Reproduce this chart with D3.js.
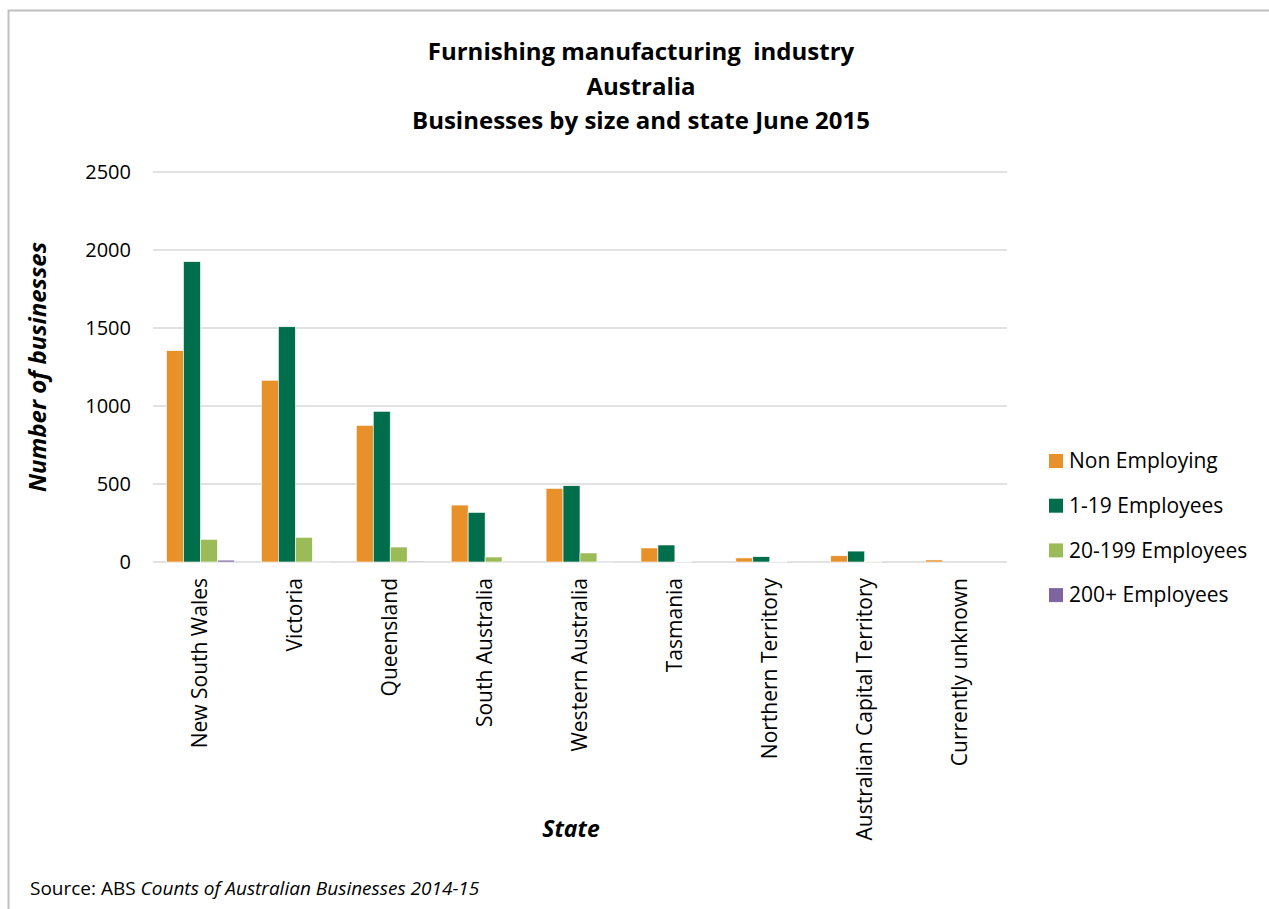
<!DOCTYPE html>
<html>
  <head>
    <meta charset="utf-8" />
    <script src="https://d3js.org/d3.v7.min.js"></script>
    <style>
      body {
        margin: 0;
        background: #fff;
      }
      svg text {
        font-family: "Open Sans", Lato, sans-serif;
        fill: #000;
      }
    </style>
  </head>
  <body>
    <svg id="chart" width="1269" height="909"></svg>
    <script>
      // Data
      const states = [
        "New South Wales",
        "Victoria",
        "Queensland",
        "South Australia",
        "Western Australia",
        "Tasmania",
        "Northern Territory",
        "Australian Capital Territory",
        "Currently unknown",
      ];
      const seriesNames = [
        "Non Employing",
        "1-19 Employees",
        "20-199 Employees",
        "200+ Employees",
      ];
      const nonEmploying = [1355, 1165, 876, 365, 472, 90, 26, 40, 13];
      const emp1to19 = [1925, 1508, 966, 318, 489, 109, 34, 70, 0];
      const emp20to199 = [145, 158, 96, 32, 58, 3, 2, 4, 0];
      const emp200plus = [12, 1, 6, 1, 1, 0, 0, 0, 0];
      const yTicks = [0, 500, 1000, 1500, 2000, 2500];
      const colors = ["#E8912A", "#006E4A", "#9BBB59", "#8064A2"];

      const seriesValues = [nonEmploying, emp1to19, emp20to199, emp200plus];
      const rows = states.map((s, i) => ({
        state: s,
        values: seriesValues.map((arr) => arr[i]),
      }));

      const svg = d3.select("#chart");

      // chart frame (only top and left edges show)
      svg
        .append("path")
        .attr("d", "M8.5,909 L8.5,10.5 L1269,10.5")
        .attr("fill", "none")
        .attr("stroke", "#bfbfbf")
        .attr("stroke-width", 2);

      const plot = { left: 153, right: 1007, top: 172, bottom: 562 };

      const x = d3
        .scaleBand()
        .domain(states)
        .range([plot.left, plot.right])
        .paddingInner(0.285)
        .paddingOuter(0.1425);
      const xInner = d3
        .scaleBand()
        .domain(d3.range(seriesNames.length))
        .range([0, x.bandwidth()]);
      const y = d3
        .scaleLinear()
        .domain([0, 2500])
        .range([plot.bottom, plot.top]);

      // gridlines
      svg
        .append("g")
        .selectAll("line")
        .data(yTicks)
        .join("line")
        .attr("x1", plot.left)
        .attr("x2", plot.right)
        .attr("y1", (d) => y(d))
        .attr("y2", (d) => y(d))
        .attr("stroke", "#d9d9d9")
        .attr("stroke-width", 1.5);

      // y tick labels
      svg
        .append("g")
        .selectAll("text")
        .data(yTicks)
        .join("text")
        .attr("x", 131)
        .attr("y", (d) => y(d))
        .attr("dy", "0.35em")
        .attr("text-anchor", "end")
        .style("font-size", "20px")
        .text((d) => d);

      // bars
      const groups = svg
        .append("g")
        .selectAll("g")
        .data(rows)
        .join("g")
        .attr("transform", (d) => `translate(${x(d.state)},0)`);

      groups
        .selectAll("rect")
        .data((d) => d.values.map((v, k) => ({ v, k })))
        .join("rect")
        .attr("x", (d) => xInner(d.k))
        .attr("width", xInner.bandwidth())
        .attr("y", (d) => y(d.v))
        .attr("height", (d) => y(0) - y(d.v))
        .attr("fill", (d) => colors[d.k])
        .attr("stroke", "#fff")
        .attr("stroke-width", 0.6);

      // x labels, rotated
      svg
        .append("g")
        .selectAll("text")
        .data(states)
        .join("text")
        .attr(
          "transform",
          (d) => `translate(${x(d) + x.bandwidth() / 2 + 7},578) rotate(-90)`
        )
        .attr("text-anchor", "end")
        .style("font-size", "21px")
        .text((d) => d);

      // axis titles
      svg
        .append("text")
        .attr("transform", "translate(46,367) rotate(-90)")
        .attr("text-anchor", "middle")
        .style("font-size", "24px")
        .style("font-weight", "bold")
        .style("font-style", "italic")
        .text("Number of businesses");

      svg
        .append("text")
        .attr("x", 571)
        .attr("y", 837)
        .attr("text-anchor", "middle")
        .style("font-size", "23px")
        .style("font-weight", "bold")
        .style("font-style", "italic")
        .text("State");

      // title
      const titleLines = [
        "Furnishing manufacturing  industry",
        "Australia",
        "Businesses by size and state June 2015",
      ];
      svg
        .append("text")
        .attr("text-anchor", "middle")
        .style("font-size", "24px")
        .style("font-weight", "bold")
        .style("white-space", "pre")
        .selectAll("tspan")
        .data(titleLines)
        .join("tspan")
        .attr("x", 641)
        .attr("y", (d, i) => 60 + i * 34.5)
        .text((d) => d);

      // legend
      const legend = svg
        .append("g")
        .selectAll("g")
        .data(seriesNames)
        .join("g")
        .attr("transform", (d, i) => `translate(1049,${461 + i * 44.7})`);
      legend
        .append("rect")
        .attr("x", 0)
        .attr("y", -7)
        .attr("width", 14)
        .attr("height", 14)
        .attr("fill", (d, i) => colors[i]);
      legend
        .append("text")
        .attr("x", 20)
        .attr("dy", "0.35em")
        .style("font-size", "21px")
        .text((d) => d);

      // source note
      const src = svg
        .append("text")
        .attr("x", 30)
        .attr("y", 895)
        .style("font-size", "19px");
      src.append("tspan").text("Source: ABS ");
      src
        .append("tspan")
        .style("font-style", "italic")
        .text("Counts of Australian Businesses 2014-15");
    </script>
  </body>
</html>
